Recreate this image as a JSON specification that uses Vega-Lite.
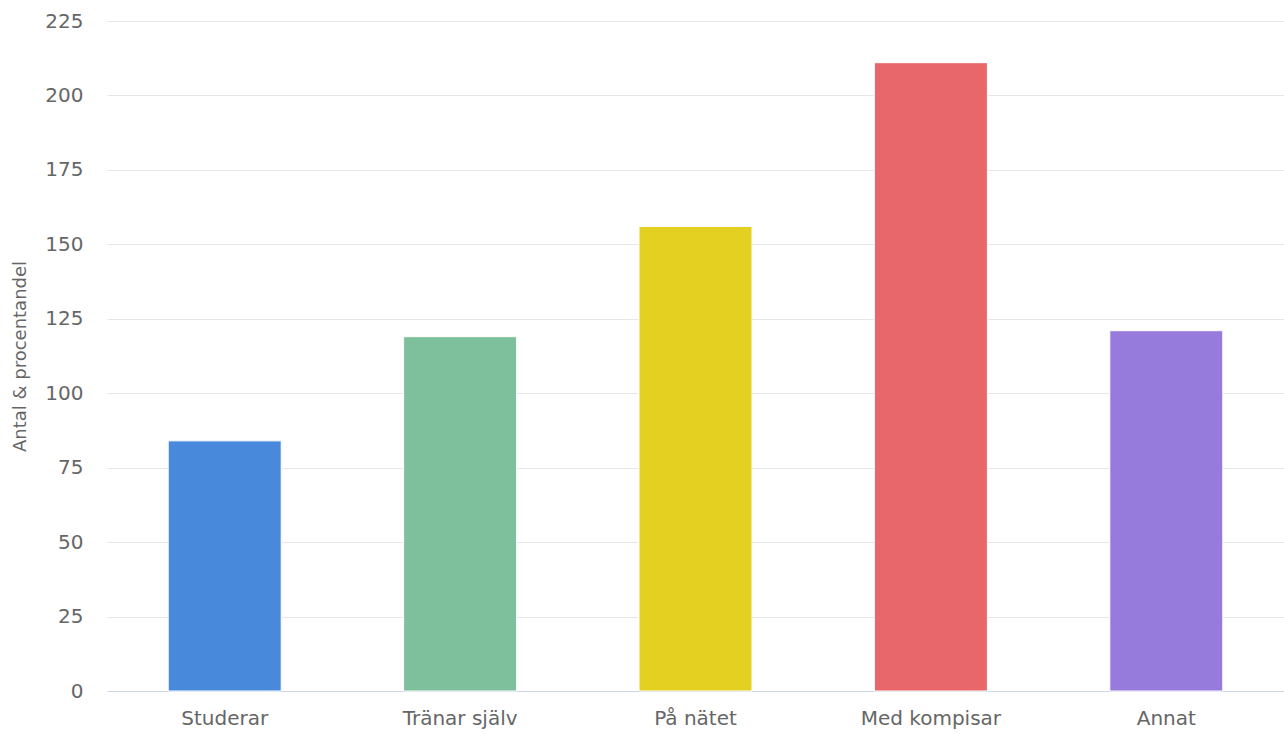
{
  "$schema": "https://vega.github.io/schema/vega-lite/v6.json",
  "width": 1177,
  "height": 670,
  "autosize": {"type": "none"},
  "padding": {"left": 107, "top": 21, "right": 0, "bottom": 43},
  "background": "white",
  "config": {"view": {"stroke": null}, "font": "DejaVu Sans"},
  "data": {
    "values": [
      {"kategori": "Studerar", "antal": 84},
      {"kategori": "Tränar själv", "antal": 119},
      {"kategori": "På nätet", "antal": 156},
      {"kategori": "Med kompisar", "antal": 211},
      {"kategori": "Annat", "antal": 121}
    ]
  },
  "mark": {"type": "bar", "stroke": "white", "strokeWidth": 1},
  "encoding": {
    "x": {
      "field": "kategori",
      "type": "nominal",
      "sort": null,
      "scale": {"paddingInner": 0.52, "paddingOuter": 0.26},
      "axis": {
        "title": null,
        "labelAngle": 0,
        "labelFont": "DejaVu Sans",
        "labelFontSize": 20,
        "labelColor": "#666666",
        "labelBaseline": "alphabetic",
        "labelPadding": 33,
        "ticks": false,
        "tickSize": 0,
        "domainColor": "#ccd6eb",
        "domainWidth": 1,
        "grid": false
      }
    },
    "y": {
      "field": "antal",
      "type": "quantitative",
      "scale": {"domain": [0, 225], "nice": false},
      "axis": {
        "title": "Antal & procentandel",
        "titleFont": "DejaVu Sans",
        "titleFontSize": 18,
        "titleFontWeight": "normal",
        "titleColor": "#666666",
        "titleX": -87,
        "titleY": 335,
        "titleAngle": -90,
        "titleAlign": "center",
        "titleBaseline": "middle",
        "values": [0, 25, 50, 75, 100, 125, 150, 175, 200, 225],
        "labelFont": "DejaVu Sans",
        "labelFontSize": 20,
        "labelColor": "#666666",
        "labelPadding": 24,
        "labelBaseline": "middle",
        "ticks": false,
        "tickSize": 0,
        "domain": false,
        "grid": true,
        "gridColor": "#e6e6e6",
        "gridWidth": 1
      }
    },
    "color": {
      "field": "kategori",
      "type": "nominal",
      "sort": null,
      "legend": null,
      "scale": {
        "domain": ["Studerar", "Tränar själv", "På nätet", "Med kompisar", "Annat"],
        "range": ["#4889db", "#7dc09b", "#e4d021", "#e7676b", "#967adc"]
      }
    }
  }
}
